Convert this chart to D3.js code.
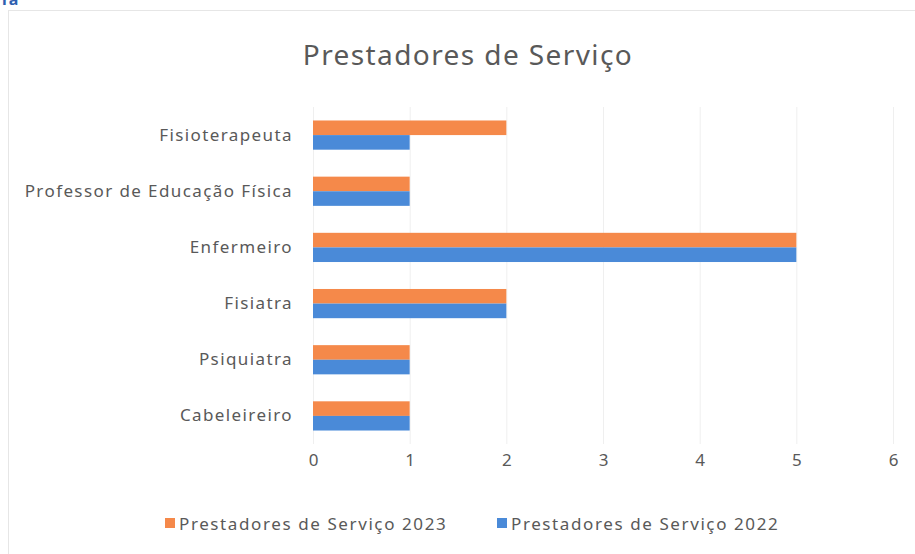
<!DOCTYPE html>
<html>
<head>
<meta charset="utf-8">
<script src="https://cdn.jsdelivr.net/npm/d3@7"></script>
<style>
  body { margin: 0; background: #fff; }
  svg { display: block; }
</style>
</head>
<body>
<div id="chart"></div>
<script>
const categories = ["Fisioterapeuta", "Professor de Educação Física", "Enfermeiro", "Fisiatra", "Psiquiatra", "Cabeleireiro"];
const seriesNames = ["Prestadores de Serviço 2023", "Prestadores de Serviço 2022"];
const values2023 = [2, 1, 5, 2, 1, 1];
const values2022 = [1, 1, 5, 2, 1, 1];
const xTicks = [0, 1, 2, 3, 4, 5, 6];

const width = 915, height = 554;
const colors = ["#F5894A", "#4A8AD8"];
const font = "'Noto Sans', 'Open Sans', sans-serif";
const textColor = "#595959";

let svg = d3.select("#chart").append("svg")
  .attr("width", width)
  .attr("height", height);

// page fragment at very top
svg.append("text")
  .attr("x", 2).attr("y", 5)
  .text("ra")
  .style("font-family", font)
  .style("font-weight", "bold")
  .style("font-size", "16px")
  .style("fill", "#2F5FB0");

// chart frame
svg.append("rect")
  .attr("x", 8.5).attr("y", 10.5)
  .attr("width", 930).attr("height", 560)
  .style("fill", "none")
  .style("stroke", "#e6e6e6")
  .style("stroke-width", 1);

const margin = {left: 313, right: 22, top: 107, bottom: 110};

let x = d3.scaleLinear()
  .domain([0, 6])
  .range([margin.left, width - margin.right]);

let y = d3.scaleBand()
  .domain(categories)
  .range([margin.top, height - margin.bottom])
  .paddingInner(0.48)
  .paddingOuter(0.24);

let inner = d3.scaleBand()
  .domain(seriesNames)
  .range([0, y.bandwidth()]);

// gridlines
svg.append("g")
  .selectAll("line")
  .data(xTicks)
  .enter()
  .append("line")
  .attr("x1", d => x(d) + 0.5)
  .attr("x2", d => x(d) + 0.5)
  .attr("y1", margin.top)
  .attr("y2", height - margin.bottom)
  .style("stroke", "#efefef")
  .style("stroke-width", 1);

// bars
const seriesData = [values2023, values2022];
seriesData.forEach((vals, s) => {
  svg.append("g")
    .selectAll("rect")
    .data(vals)
    .enter()
    .append("rect")
    .attr("x", x(0))
    .attr("y", (d, i) => y(categories[i]) + inner(seriesNames[s]))
    .attr("width", d => x(d) - x(0))
    .attr("height", inner.bandwidth())
    .style("fill", colors[s]);
});

// x axis labels
let xAxis = svg.append("g")
  .attr("transform", "translate(0," + (height - margin.bottom) + ")")
  .call(d3.axisBottom(x).tickValues(xTicks).tickFormat(d3.format("d")).tickSize(0).tickPadding(10));
xAxis.select(".domain").remove();
xAxis.selectAll("text")
  .style("font-family", font)
  .style("font-size", "17px")
  .style("fill", textColor);

// y axis labels
let yAxis = svg.append("g")
  .attr("transform", "translate(" + margin.left + ",0)")
  .call(d3.axisLeft(y).tickSize(0).tickPadding(20));
yAxis.select(".domain").remove();
yAxis.selectAll("text")
  .style("font-family", font)
  .style("font-size", "17px")
  .style("letter-spacing", "1.4px")
  .style("fill", textColor);

// title
svg.append("text")
  .attr("x", 468).attr("y", 65)
  .attr("text-anchor", "middle")
  .text("Prestadores de Serviço")
  .style("font-family", font)
  .style("font-size", "28px")
  .style("letter-spacing", "1.4px")
  .style("fill", textColor);

// legend
const legendX = [165, 497];
seriesNames.forEach((name, s) => {
  let g = svg.append("g").attr("transform", "translate(" + legendX[s] + ",524)");
  g.append("rect")
    .attr("x", 0).attr("y", -6)
    .attr("width", 10).attr("height", 10)
    .style("fill", colors[s]);
  g.append("text")
    .attr("x", 14).attr("y", 0)
    .attr("dy", "0.35em")
    .text(name)
    .style("font-family", font)
    .style("font-size", "17px")
    .style("letter-spacing", "1.6px")
    .style("fill", textColor);
});
</script>
</body>
</html>
